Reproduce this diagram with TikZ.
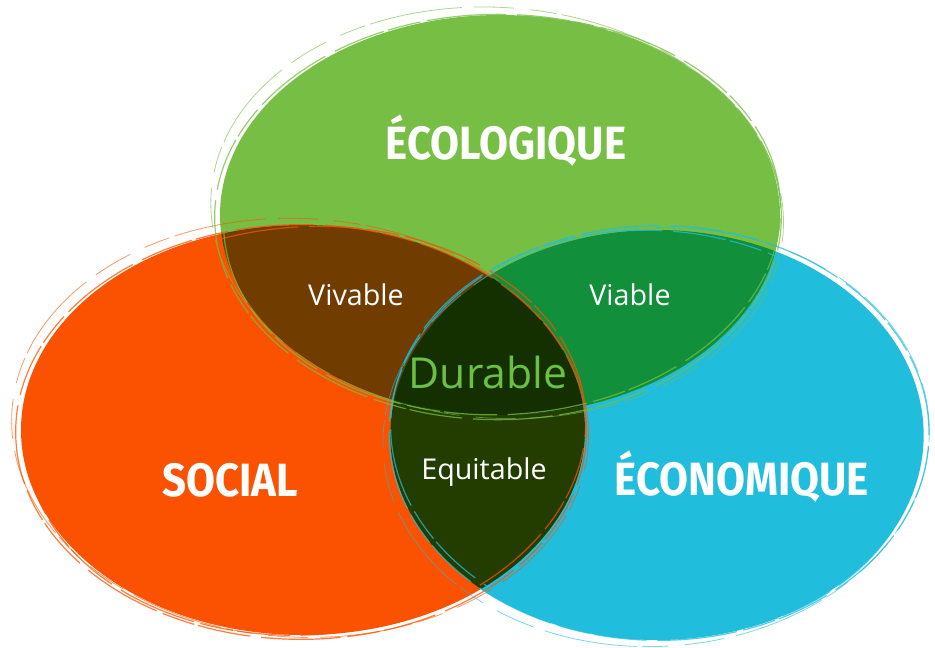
\documentclass[tikz,border=0pt]{standalone}
\usepackage{fontspec}
\newfontfamily\titlefont[FakeStretch=0.9]{Fira Sans}
\newfontfamily\handfont{Open Sans}
\definecolor{ecoG}{HTML}{76BE44}
\definecolor{socO}{HTML}{FA5200}
\definecolor{ecnB}{HTML}{20BEDC}
\definecolor{brownOG}{HTML}{713C00}
\definecolor{greenGB}{HTML}{118F3A}
\definecolor{oliveOB}{HTML}{233C00}
\definecolor{darkC}{HTML}{143000}
\definecolor{durG}{HTML}{6DBE45}
\tikzset{
  title/.style={text=white,font=\titlefont\bfseries\fontsize{35}{37}\selectfont,inner sep=0pt},
  hand/.style={text=white,font=\handfont\fontsize{21.5}{23}\selectfont,inner sep=0pt},
  brush/.style={line width=0.9pt,opacity=0.75,dash pattern=on 60pt off 5pt on 25pt off 3pt on 40pt off 8pt},
  brushb/.style={line width=0.6pt,opacity=0.6,dash pattern=on 30pt off 9pt on 70pt off 4pt on 20pt off 12pt}
}
\begin{document}
\begin{tikzpicture}[x=0.75pt,y=-0.75pt]
\useasboundingbox (0,0) rectangle (935,647);
\fill[white] (0,0) rectangle (935,647);
% main fills
\fill[socO] (303,430) ellipse [x radius=211.5pt, y radius=153.75pt];
\fill[ecnB] (657,435) ellipse [x radius=200pt, y radius=153.75pt];
\fill[ecoG] (500,215) ellipse [x radius=210pt, y radius=150pt];
% pairwise overlaps
\begin{scope}
  \clip (303,430) ellipse [x radius=211.5pt, y radius=153.75pt];
  \fill[brownOG] (500,215) ellipse [x radius=210pt, y radius=150pt];
  \fill[oliveOB] (657,435) ellipse [x radius=200pt, y radius=153.75pt];
\end{scope}
\begin{scope}
  \clip (657,435) ellipse [x radius=200pt, y radius=153.75pt];
  \fill[greenGB] (500,215) ellipse [x radius=210pt, y radius=150pt];
\end{scope}
% triple overlap
\begin{scope}
  \clip (303,430) ellipse [x radius=211.5pt, y radius=153.75pt];
  \clip (657,435) ellipse [x radius=200pt, y radius=153.75pt];
  \fill[darkC] (500,215) ellipse [x radius=210pt, y radius=150pt];
\end{scope}
% brush strokes round the edges
\draw[socO,brush] (301,432) ellipse [x radius=214pt, y radius=155.5pt];
\draw[socO,brushb,rotate around={-3:(303,430)}] (300,428) ellipse [x radius=216.5pt, y radius=157pt];
\draw[socO,brush,rotate around={4:(303,430)}] (306,431) ellipse [x radius=210pt, y radius=153pt];
\draw[ecnB,brush] (659,433) ellipse [x radius=202.5pt, y radius=155.5pt];
\draw[ecnB,brushb,rotate around={3:(657,435)}] (656,437) ellipse [x radius=205pt, y radius=157pt];
\draw[ecnB,brush,rotate around={-4:(657,435)}] (655,434) ellipse [x radius=198.5pt, y radius=152.5pt];
\draw[ecoG,brush] (498,217) ellipse [x radius=212.5pt, y radius=152pt];
\draw[ecoG,brushb,rotate around={-4:(500,215)}] (497,213) ellipse [x radius=215pt, y radius=154pt];
\draw[ecoG,brush,rotate around={3:(500,215)}] (502,216) ellipse [x radius=209pt, y radius=149pt];
% labels
\node[title] (ecol) at (506,141) {ÉCOLOGIQUE};
\node[title] (soc) at (230,480) {SOCIAL};
\node[title] (econ) at (742,477) {ÉCONOMIQUE};
\node[hand] (viv) at (356,295) {Vivable};
\node[hand] (via) at (630,295) {Viable};
\node[hand,text=durG,font=\handfont\fontsize{32}{34}\selectfont] (dur) at (488,372) {Durable};
\node[hand] (equ) at (484,472) {Equitable};
\end{tikzpicture}
\end{document}
